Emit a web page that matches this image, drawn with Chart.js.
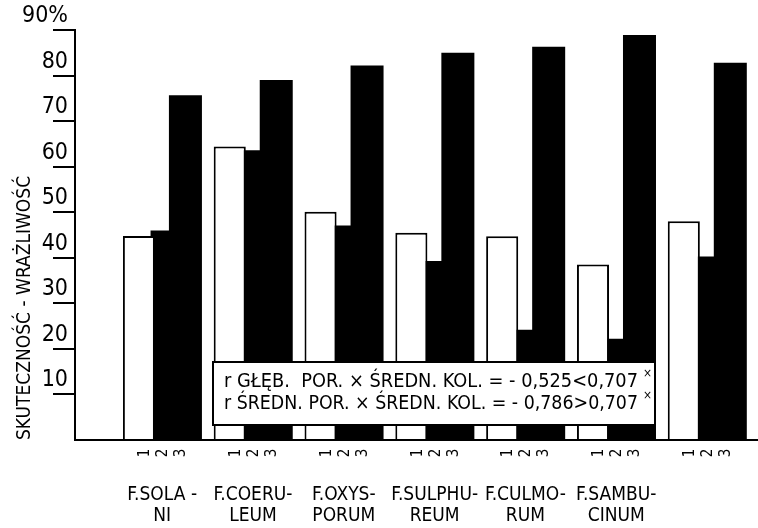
<!DOCTYPE html>
<html>
<head>
<meta charset="utf-8">
<script src="https://cdn.jsdelivr.net/npm/chart.js@4.4.1/dist/chart.umd.min.js"></script>
<style>
  html, body { margin: 0; padding: 0; background: #fff; }
</style>
</head>
<body>
<canvas id="wykres" width="758" height="528"></canvas>
<script>
// gatunki Fusarium (dwie linie podpisu) i średnia
const gatunki = [
    ['F.SOLA -', 'NI'],
    ['F.COERU-', 'LEUM'],
    ['F.OXYS-', 'PORUM'],
    ['F.SULPHU-', 'REUM'],
    ['F.CULMO-', 'RUM'],
    ['F.SAMBU-', 'CINUM'],
    ['', 'X\u0304']
];
// w %
const seria1 = [44.8, 64.4, 50.1, 45.5, 44.7, 38.5, 48.0];
const seria2 = [46.0, 63.6, 47.1, 39.3, 24.2, 22.2, 40.3];
const seria3 = [75.7, 79.0, 82.2, 85.0, 86.3, 88.9, 82.8];
const numerySerii = ['1', '2', '3'];
const tytulY = 'SKUTECZNOŚĆ - WRAŻLIWOŚĆ';
const korelacje = [
    'r GŁĘB.  POR. × ŚREDN. KOL. = - 0,525<0,707',
    'r ŚREDN. POR. × ŚREDN. KOL. = - 0,786>0,707'
];

const kroj = "'DejaVu Sans Condensed', 'Liberation Sans Narrow', 'DejaVu Sans', sans-serif";
Chart.defaults.font.family = kroj;
Chart.defaults.color = '#000';

function punkty(seria) {
    const out = [];
    for (let i = 0; i < seria.length; i++) {
        out.push({x: i, y: seria[i]});
    }
    return out;
}

// cyfry 1 2 3 pod slupkami + ramka z wspolczynnikami korelacji
const dopiski = {
    id: 'dopiski',
    afterDraw(chart) {
        const c = chart.ctx;
        const osX = chart.scales.x;
        c.save();
        c.fillStyle = '#000';
        c.font = '15px ' + kroj;
        c.textAlign = 'center';
        c.textBaseline = 'middle';
        for (let i = 0; i < gatunki.length; i++) {
            const srodek = osX.getPixelForValue(i);
            for (let k = 0; k < numerySerii.length; k++) {
                c.save();
                c.translate(srodek + (k - 1) * 18 + 1, 453);
                c.rotate(-Math.PI / 2);
                c.fillText(numerySerii[k], 0, 0);
                c.restore();
            }
        }

        c.fillStyle = '#fff';
        c.fillRect(213, 362, 442, 63);
        c.strokeStyle = '#000';
        c.lineWidth = 2;
        c.strokeRect(213, 362, 442, 63);

        c.fillStyle = '#000';
        c.textAlign = 'left';
        for (let j = 0; j < korelacje.length; j++) {
            const y = 382 + j * 22;
            c.font = '20px ' + kroj;
            c.fillText(korelacje[j], 224, y, 414);
            const w = Math.min(c.measureText(korelacje[j]).width, 414);
            c.font = '12px ' + kroj;
            c.fillText('×', 224 + w + 5, y - 8);
        }
        c.restore();
    }
};

const ctx = document.getElementById('wykres');
const data = {
    "datasets": [
        {
            "label": numerySerii[0],
            "data": punkty(seria1),
            "backgroundColor": "#ffffff",
            "borderColor": "#000000",
            "borderWidth": 2,
            "borderSkipped": "start",
            "barPercentage": 1.38
        },
        {
            "label": numerySerii[1],
            "data": punkty(seria2),
            "backgroundColor": "#000000",
            "borderWidth": 0,
            "barPercentage": 1.0
        },
        {
            "label": numerySerii[2],
            "data": punkty(seria3),
            "backgroundColor": "#000000",
            "borderWidth": 0,
            "barPercentage": 1.42
        }
    ]
};
const options = {
    responsive: false,
    animation: false,
    categoryPercentage: 0.768,
    layout: { padding: { top: 30, right: 1, left: 0, bottom: 0 } },
    plugins: {
        legend: { display: false },
        tooltip: { enabled: false }
    },
    scales: {
        x: {
            type: 'linear',
            min: -0.96,
            max: 6.55,
            offset: false,
            grid: { display: false, drawTicks: false, offset: false },
            border: { color: '#000', width: 2 },
            afterBuildTicks: (s) => {
                s.ticks = s.ticks.filter(t => Number.isInteger(t.value) && t.value >= 0 && t.value < gatunki.length);
            },
            afterFit: (s) => { s.height = 88; },
            ticks: {
                autoSkip: false,
                maxRotation: 0,
                minRotation: 0,
                padding: 45,
                font: { size: 19, lineHeight: 1.1 },
                callback: (v) => gatunki[v]
            }
        },
        y: {
            min: 0,
            max: 90,
            border: { color: '#000', width: 2 },
            grid: {
                drawOnChartArea: false,
                tickLength: 22,
                lineWidth: 2,
                color: (c) => (c.tick && c.tick.value === 0) ? 'rgba(0,0,0,0)' : '#000'
            },
            afterFit: (s) => { s.width = 75; },
            ticks: {
                stepSize: 10,
                padding: -15,
                labelOffset: -14,
                font: { size: 23 },
                callback: (v) => v === 0 ? '' : (v === 90 ? '90%' : String(v))
            },
            title: {
                display: true,
                text: tytulY,
                align: 'start',
                font: { size: 19 },
                padding: { top: 14, bottom: 0 }
            }
        }
    }
};

new Chart(ctx, {
    type: 'bar',
    data: data,
    options: options,
    plugins: [dopiski]
});
</script>
</body>
</html>
